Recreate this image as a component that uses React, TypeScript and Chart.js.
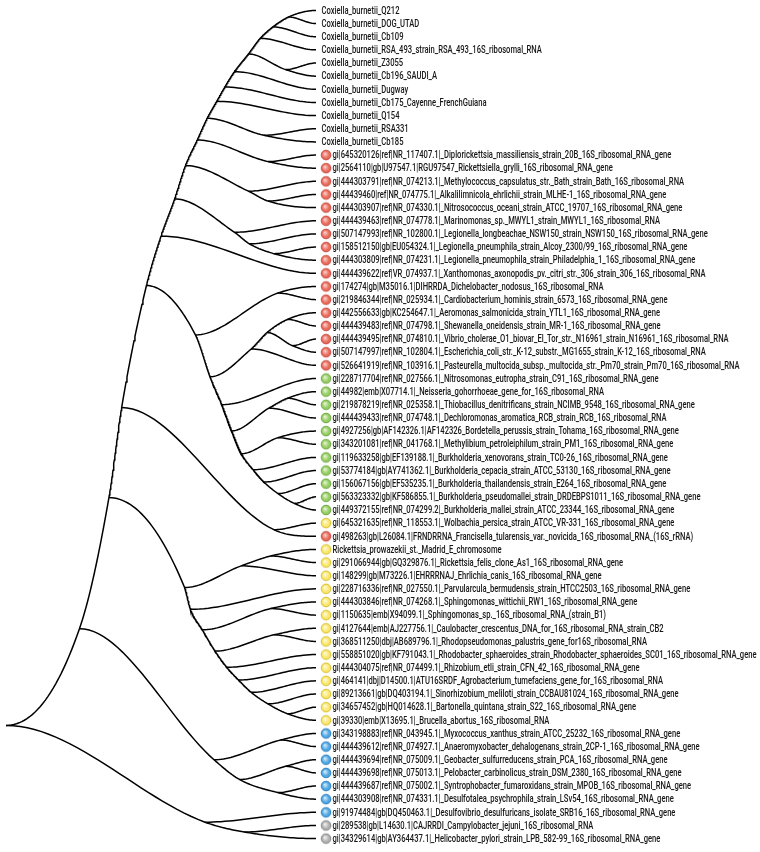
import React, { useEffect, useRef } from 'react';
import { Chart, registerables } from 'chart.js';

Chart.register(...registerables);

// ---------- DATA ----------
const leafNames: string[] = [
  'Coxiella_burnetii_Q212',
  'Coxiella_burnetii_DOG_UTAD',
  'Coxiella_burnetii_Cb109',
  'Coxiella_burnetii_RSA_493_strain_RSA_493_16S_ribosomal_RNA',
  'Coxiella_burnetii_Z3055',
  'Coxiella_burnetii_Cb196_SAUDI_A',
  'Coxiella_burnetii_Dugway',
  'Coxiella_burnetii_Cb175_Cayenne_FrenchGuiana',
  'Coxiella_burnetii_Q154',
  'Coxiella_burnetii_RSA331',
  'Coxiella_burnetii_Cb185',
  'gi|645320126|ref|NR_117407.1|_Diplorickettsia_massiliensis_strain_20B_16S_ribosomal_RNA_gene',
  'gi|2564110|gb|U97547.1|RGU97547_Rickettsiella_grylli_16S_ribosomal_RNA_gene',
  'gi|444303791|ref|NR_074213.1|_Methylococcus_capsulatus_str._Bath_strain_Bath_16S_ribosomal_RNA',
  'gi|44439460|ref|NR_074775.1|_Alkalilimnicola_ehrlichii_strain_MLHE-1_16S_ribosomal_RNA_gene',
  'gi|444303907|ref|NR_074330.1|_Nitrosococcus_oceani_strain_ATCC_19707_16S_ribosomal_RNA_gene',
  'gi|444439463|ref|NR_074778.1|_Marinomonas_sp._MWYL1_strain_MWYL1_16S_ribosomal_RNA',
  'gi|507147993|ref|NR_102800.1|_Legionella_longbeachae_NSW150_strain_NSW150_16S_ribosomal_RNA_gene',
  'gi|158512150|gb|EU054324.1|_Legionella_pneumphila_strain_Alcoy_2300/99_16S_ribosomal_RNA_gene',
  'gi|444303809|ref|NR_074231.1|_Legionella_pneumophila_strain_Philadelphia_1_16S_ribosomal_RNA_gene',
  'gi|444439622|ref|VR_074937.1|_Xanthomonas_axonopodis_pv._citri_str._306_strain_306_16S_ribosomal_RNA',
  'gi|174274|gb|M35016.1|DIHRRDA_Dichelobacter_nodosus_16S_ribosomal_RNA',
  'gi|219846344|ref|NR_025934.1|_Cardiobacterium_hominis_strain_6573_16S_ribosomal_RNA_gene',
  'gi|442556633|gb|KC254647.1|_Aeromonas_salmonicida_strain_YTL1_16S_ribosomal_RNA_gene',
  'gi|444439483|ref|NR_074798.1|_Shewanella_oneidensis_strain_MR-1_16S_ribosomal_RNA_gene',
  'gi|444439495|ref|NR_074810.1|_Vibrio_cholerae_O1_biovar_El_Tor_str._N16961_strain_N16961_16S_ribosomal_RNA',
  'gi|507147997|ref|NR_102804.1|_Escherichia_coli_str._K-12_substr._MG1655_strain_K-12_16S_ribosomal_RNA',
  'gi|526641919|ref|NR_103916.1|_Pasteurella_multocida_subsp._multocida_str._Pm70_strain_Pm70_16S_ribosomal_RNA',
  'gi|228717704|ref|NR_027566.1|_Nitrosomonas_eutropha_strain_C91_16S_ribosomal_RNA_gene',
  'gi|44982|emb|X07714.1|_Neisseria_gohorrhoeae_gene_for_16S_ribosomal_RNA',
  'gi|219878219|ref|NR_025358.1|_Thiobacillus_denitrificans_strain_NCIMB_9548_16S_ribosomal_RNA_gene',
  'gi|444439433|ref|NR_074748.1|_Dechloromonas_aromatica_RCB_strain_RCB_16S_ribosomal_RNA',
  'gi|4927256|gb|AF142326.1|AF142326_Bordetella_perussis_strain_Tohama_16S_ribosomal_RNA_gene',
  'gi|343201081|ref|NR_041768.1|_Methylibium_petroleiphilum_strain_PM1_16S_ribosomal_RNA_gene',
  'gi|119633258|gb|EF139188.1|_Burkholderia_xenovorans_strain_TC0-26_16S_ribosomal_RNA_gene',
  'gi|53774184|gb|AY741362.1|_Burkholderia_cepacia_strain_ATCC_53130_16S_ribosomal_RNA_gene',
  'gi|156067156|gb|EF535235.1|_Burkholderia_thailandensis_strain_E264_16S_ribosomal_RNA_gene',
  'gi|563323332|gb|KF586855.1|_Burkholderia_pseudomallei_strain_DRDEBPS1011_16S_ribosomal_RNA_gene',
  'gi|449372155|ref|NR_074299.2|_Burkholderia_mallei_strain_ATCC_23344_16S_ribosomal_RNA_gene',
  'gi|645321635|ref|NR_118553.1|_Wolbachia_persica_strain_ATCC_VR-331_16S_ribosomal_RNA_gene',
  'gi|498263|gb|L26084.1|FRNDRRNA_Francisella_tularensis_var._novicida_16S_ribosomal_RNA_(16S_rRNA)',
  'Rickettsia_prowazekii_st._Madrid_E_chromosome',
  'gi|291066944|gb|GQ329876.1|_Rickettsia_felis_clone_As1_16S_ribosomal_RNA_gene',
  'gi|148299|gb|M73226.1|EHRRRNAJ_Ehrlichia_canis_16S_ribosomal_RNA_gene',
  'gi|228716336|ref|NR_027550.1|_Parvularcula_bermudensis_strain_HTCC2503_16S_ribosomal_RNA_gene',
  'gi|444303846|ref|NR_074268.1|_Sphingomonas_wittichii_RW1_16S_ribosomal_RNA_gene',
  'gi|1150635|emb|X94099.1|_Sphingomonas_sp._16S_ribosomal_RNA_(strain_B1)',
  'gi|4127644|emb|AJ227756.1|_Caulobacter_crescentus_DNA_for_16S_ribosomal_RNA_strain_CB2',
  'gi|368511250|dbj|AB689796.1|_Rhodopseudomonas_palustris_gene_for16S_ribosomal_RNA',
  'gi|558851020|gb|KF791043.1|_Rhodobacter_sphaeroides_strain_Rhodobacter_sphaeroides_SC01_16S_ribosomal_RNA_gene',
  'gi|444304075|ref|NR_074499.1|_Rhizobium_etli_strain_CFN_42_16S_ribosomal_RNA_gene',
  'gi|464141|dbj|D14500.1|ATU16SRDF_Agrobacterium_tumefaciens_gene_for_16S_ribosomal_RNA',
  'gi|89213661|gb|DQ403194.1|_Sinorhizobium_meliloti_strain_CCBAU81024_16S_ribosomal_RNA_gene',
  'gi|34657452|gb|HQ014628.1|_Bartonella_quintana_strain_S22_16S_ribosomal_RNA_gene',
  'gi|39330|emb|X13695.1|_Brucella_abortus_16S_ribosomal_RNA',
  'gi|343198883|ref|NR_043945.1|_Myxococcus_xanthus_strain_ATCC_25232_16S_ribosomal_RNA_gene',
  'gi|444439612|ref|NR_074927.1|_Anaeromyxobacter_dehalogenans_strain_2CP-1_16S_ribosomal_RNA_gene',
  'gi|444439694|ref|NR_075009.1|_Geobacter_sulfurreducens_strain_PCA_16S_ribosomal_RNA_gene',
  'gi|444439698|ref|NR_075013.1|_Pelobacter_carbinolicus_strain_DSM_2380_16S_ribosomal_RNA_gene',
  'gi|444439687|ref|NR_075002.1|_Syntrophobacter_fumaroxidans_strain_MPOB_16S_ribosomal_RNA_gene',
  'gi|444303908|ref|NR_074331.1|_Desulfotalea_psychrophila_strain_LSv54_16S_ribosomal_RNA_gene',
  'gi|91974484|gb|DQ450463.1|_Desulfovibrio_desulfuricans_isolate_SRB16_16S_ribosomal_RNA_gene',
  'gi|289538|gb|L14630.1|CAJRRDI_Campylobacter_jejuni_16S_ribosomal_RNA',
  'gi|34329614|gb|AY364437.1|_Helicobacter_pylori_strain_LPB_582-99_16S_ribosomal_RNA_gene',
];

// marker group per leaf: '-' none, r red, g green, y yellow, b blue, k gray
const leafGroups: string[] = [
  '-', '-', '-', '-', '-', '-', '-', '-', '-', '-', '-',
  'r', 'r', 'r', 'r', 'r', 'r', 'r', 'r', 'r', 'r', 'r', 'r', 'r', 'r', 'r', 'r', 'r',
  'g', 'g', 'g', 'g', 'g', 'g', 'g', 'g', 'g', 'g', 'g',
  'y', 'r',
  'y', 'y', 'y', 'y', 'y', 'y', 'y', 'y', 'y', 'y', 'y', 'y', 'y', 'y',
  'b', 'b', 'b', 'b', 'b', 'b', 'b',
  'k', 'k',
];

// internal nodes: id, children (leaf numbers 1-based or node ids), depth (root 0, leaves 1)
const nodeIds: string[] = [
  'C1', 'C2', 'C3', 'C56', 'C4', 'C5', 'C6', 'C7', 'C1011', 'C8',
  'R1213', 'C9', 'R1516', 'R14', 'C10', 'R1920', 'R18', 'R17', 'C11', 'C12',
  'R2223', 'R2425', 'R2627', 'R4', 'R5', 'G3031', 'G3', 'G3334', 'G8', 'G7',
  'G6', 'G5', 'G4', 'G2', 'G1', 'D2', 'D1', 'A1', 'X4041', 'A2',
  'Y4243', 'Y1', 'Y4647', 'Y4849', 'Y9', 'Y8', 'Y7', 'Y6', 'Y5', 'Y4',
  'Y3', 'Y2', 'Y0', 'A3', 'B5657', 'B5859', 'B6061', 'B1', 'B0', 'A4',
  'G6364', 'L', 'root',
];
const nodeKids: (string | number)[][] = [
  [1, 2], ['C1', 3], ['C2', 4], [5, 6], ['C3', 'C56'], ['C4', 7], ['C5', 8], ['C6', 9], [10, 11], ['C7', 'C1011'],
  [12, 13], ['C8', 'R1213'], [15, 16], [14, 'R1516'], ['C9', 'R14'], [19, 20], [18, 'R1920'], [17, 'R18'], ['C10', 'R17'], ['C11', 21],
  [22, 23], [24, 25], [26, 27], ['R2425', 'R2627'], ['R4', 28], [30, 31], ['G3031', 32], [33, 34], [38, 39], [37, 'G8'],
  [36, 'G7'], [35, 'G6'], ['G3334', 'G5'], ['G3', 'G4'], [29, 'G2'], ['R5', 'G1'], ['R2223', 'D2'], ['C12', 'D1'], [40, 41], ['A1', 'X4041'],
  [42, 43], ['Y4243', 44], [46, 47], [48, 49], [54, 55], [53, 'Y9'], [52, 'Y8'], [51, 'Y7'], [50, 'Y6'], ['Y4849', 'Y5'],
  ['Y4647', 'Y4'], [45, 'Y3'], ['Y1', 'Y2'], ['A2', 'Y0'], [56, 57], [58, 59], [60, 61], ['B5859', 'B6061'], ['B5657', 'B1'], ['A3', 'B0'],
  [63, 64], [62, 'G6364'], ['A4', 'L'],
];
const nodeDepths: number[] = [
  0.911, 0.861, 0.820, 0.902, 0.782, 0.737, 0.706, 0.680, 0.832, 0.649,
  0.845, 0.617, 0.845, 0.782, 0.579, 0.864, 0.785, 0.737, 0.544, 0.500,
  0.877, 0.908, 0.924, 0.842, 0.791, 0.908, 0.848, 0.877, 0.930, 0.877,
  0.832, 0.797, 0.759, 0.728, 0.696, 0.658, 0.611, 0.453, 0.864, 0.373,
  0.854, 0.759, 0.854, 0.864, 0.908, 0.845, 0.791, 0.750, 0.712, 0.674,
  0.633, 0.595, 0.576, 0.332, 0.886, 0.902, 0.877, 0.753, 0.671, 0.237,
  0.769, 0.642, 0,
];

const groupColors: Record<string, [string, string, string]> = {
  r: ['#fbd2cb', '#e96a5c', '#c44b3e'],
  g: ['#e6f5d6', '#96cd62', '#6aa540'],
  y: ['#fffbe0', '#f9e76a', '#d6bd2e'],
  b: ['#d6ecfb', '#4ea6e2', '#2c7fc0'],
  k: ['#f2f2f2', '#b0b0b0', '#858585'],
};

// ---------- TREE LAYOUT ----------
type TNode = { x: number; y: number; kids: string[] };

function buildTree() {
  const pos: Record<string, TNode> = {};
  leafNames.forEach((_, i) => {
    pos['L' + (i + 1)] = { x: 1, y: i, kids: [] };
  });
  nodeIds.forEach((id, i) => {
    pos[id] = {
      x: nodeDepths[i],
      y: NaN,
      kids: nodeKids[i].map((k) => (typeof k === 'number' ? 'L' + k : k)),
    };
  });
  const yOf = (id: string): number => {
    const n = pos[id];
    if (isNaN(n.y)) {
      const ys = n.kids.map(yOf);
      n.y = ys.reduce((a, b) => a + b, 0) / ys.length;
    }
    return n.y;
  };
  yOf('root');

  const paths: string[][] = [];
  const follow = (start: string, first: string) => {
    const path = [start, first];
    let prev = start;
    let cur = first;
    while (pos[cur].kids.length) {
      const kids = pos[cur].kids;
      const up = pos[cur].y < pos[prev].y;
      const main = kids.reduce((a, b) =>
        (up ? pos[b].y < pos[a].y : pos[b].y > pos[a].y) ? b : a
      );
      kids.forEach((k) => {
        if (k !== main) follow(cur, k);
      });
      path.push(main);
      prev = cur;
      cur = main;
    }
    paths.push(path);
  };
  pos['root'].kids.forEach((k) => follow('root', k));
  return { pos, paths };
}

function samplePath(ids: string[], pos: Record<string, TNode>) {
  const P = ids.map((id) => pos[id]);
  const n = P.length;
  const d: number[] = [];
  for (let i = 0; i < n - 1; i++) d[i] = (P[i + 1].y - P[i].y) / (P[i + 1].x - P[i].x);
  const m: number[] = new Array(n).fill(0);
  for (let i = 1; i < n - 1; i++) m[i] = d[i - 1] * d[i] > 0 ? (d[i - 1] + d[i]) / 2 : 0;
  for (let i = 0; i < n - 1; i++) {
    if (d[i] === 0) { m[i] = 0; m[i + 1] = 0; continue; }
    const a = m[i] / d[i];
    const b = m[i + 1] / d[i];
    const s = a * a + b * b;
    if (s > 9) {
      const t = 3 / Math.sqrt(s);
      m[i] = t * a * d[i];
      m[i + 1] = t * b * d[i];
    }
  }
  const pts: { x: number; y: number }[] = [];
  const N = 28;
  for (let i = 0; i < n - 1; i++) {
    const x0 = P[i].x, y0 = P[i].y, x1 = P[i + 1].x, y1 = P[i + 1].y;
    const h = x1 - x0;
    for (let s = i === 0 ? 0 : 1; s <= N; s++) {
      const t = s / N;
      const t2 = t * t, t3 = t2 * t;
      const h00 = 2 * t3 - 3 * t2 + 1;
      const h10 = t3 - 2 * t2 + t;
      const h01 = -2 * t3 + 3 * t2;
      const h11 = t3 - t2;
      pts.push({ x: x0 + h * t, y: h00 * y0 + h10 * h * m[i] + h01 * y1 + h11 * h * m[i + 1] });
    }
  }
  return pts;
}

function makeMarker(g: string): HTMLCanvasElement {
  const c = document.createElement('canvas');
  c.width = 40;
  c.height = 14;
  const ctx = c.getContext('2d')!;
  const cx = 20 + 10, cy = 7, r = 4.8;
  const [light, mid, dark] = groupColors[g];
  const grad = ctx.createRadialGradient(cx - 1.2, cy - 1.4, 0.3, cx, cy, r);
  grad.addColorStop(0, light);
  grad.addColorStop(0.7, mid);
  grad.addColorStop(1, mid);
  ctx.beginPath();
  ctx.arc(cx, cy, r, 0, Math.PI * 2);
  ctx.fillStyle = grad;
  ctx.fill();
  ctx.lineWidth = 1;
  ctx.strokeStyle = dark;
  ctx.stroke();
  return c;
}

const TIP_PX = 315;
const ROW_PX = (844.5 - 4.5) / 63;

export default function App() {
  const ref = useRef<HTMLCanvasElement>(null);
  useEffect(() => {
    const { pos, paths } = buildTree();
    const lineSets = paths.map((p) => ({
      type: 'scatter' as const,
      data: samplePath(p, pos),
      showLine: true,
      pointRadius: 0,
      borderColor: '#000',
      borderWidth: 1.5,
      fill: false,
      tension: 0,
      order: 2,
    }));
    const markerIdx = leafGroups.map((g, i) => (g === '-' ? -1 : i)).filter((i) => i >= 0);
    const markers: Record<string, HTMLCanvasElement> = {};
    Object.keys(groupColors).forEach((g) => (markers[g] = makeMarker(g)));
    const markerSet = {
      type: 'scatter' as const,
      data: markerIdx.map((i) => ({ x: 1, y: i })),
      pointStyle: markerIdx.map((i) => markers[leafGroups[i]]),
      pointRadius: 5,
      showLine: false,
      order: 1,
    };

    const labelPlugin = {
      id: 'leafLabels',
      afterDatasetsDraw(chart: any) {
        const { ctx, scales } = chart;
        const xs = scales.x, ys = scales.y;
        ctx.save();
        ctx.font = '500 11px Roboto, "DejaVu Sans", sans-serif';
        ctx.fillStyle = '#161616';
        ctx.textBaseline = 'middle';
        const sx = Math.min(
          410 / ctx.measureText(leafNames[25]).width,
          424 / ctx.measureText(leafNames[49]).width
        );
        const tip = xs.getPixelForValue(1);
        leafNames.forEach((name, i) => {
          const px = tip + (leafGroups[i] === '-' ? 5.5 : 16.5);
          const py = ys.getPixelForValue(i) + 0.5;
          ctx.save();
          ctx.translate(px, py);
          ctx.scale(sx, 1);
          ctx.fillText(name, 0, 0);
          ctx.restore();
        });
        ctx.restore();
      },
    };

    const chart = new Chart(ref.current!, {
      type: 'scatter',
      data: { datasets: [...lineSets, markerSet] as any },
      options: {
        animation: false,
        responsive: false,
        devicePixelRatio: 1,
        layout: { padding: 0 },
        plugins: { legend: { display: false }, tooltip: { enabled: false } },
        events: [],
        scales: {
          x: { type: 'linear', display: false, min: 0, max: 760 / TIP_PX },
          y: {
            type: 'linear',
            display: false,
            reverse: true,
            min: -4.5 / ROW_PX,
            max: 63 + (852 - 844.5) / ROW_PX,
          },
        },
      },
      plugins: [labelPlugin],
    });
    return () => chart.destroy();
  }, []);
  return (
    <div style={{ position: 'fixed', left: 0, top: 0, width: 760, height: 852, background: '#fff' }}>
      <canvas ref={ref} width={760} height={852} style={{ width: 760, height: 852, display: 'block' }} />
    </div>
  );
}
